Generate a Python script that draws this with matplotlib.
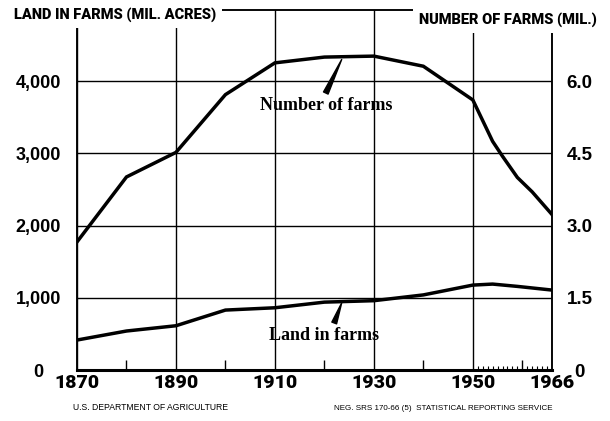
import matplotlib
matplotlib.use("Agg")
import matplotlib.pyplot as plt

# data
years_farms = [1870, 1880, 1890, 1900, 1910, 1920, 1930, 1940, 1950, 1954, 1956, 1959, 1962, 1966]
farms_mil = [2.66, 4.01, 4.52, 5.72, 6.38, 6.50, 6.52, 6.31, 5.61, 4.75, 4.44, 4.00, 3.70, 3.23]

years_land = [1870, 1880, 1890, 1900, 1910, 1920, 1930, 1940, 1950, 1954, 1959, 1966]
land_mil_acres = [415, 540, 613, 830, 862, 940, 960, 1040, 1176, 1190, 1158, 1107]

x_ticks = [1870, 1890, 1910, 1930, 1950, 1966]
x_minor = [1880, 1900, 1920, 1940, 1960]
x_yearly = [1951, 1952, 1953, 1954, 1955, 1956, 1957, 1958, 1959,
            1961, 1962, 1963, 1964, 1965]
left_ticks = [0, 1000, 2000, 3000, 4000]
left_labels = ["0", "1,000", "2,000", "3,000", "4,000"]
right_ticks = [0, 1.5, 3.0, 4.5, 6.0]
right_labels = ["0", "1.5", "3.0", "4.5", "6.0"]

NARROW = ["Roboto", "DejaVu Sans"]
WIDE = ["Liberation Sans", "DejaVu Sans"]
SERIF = ["Liberation Serif", "DejaVu Serif"]


def main():
    fig = plt.figure(figsize=(6.1, 4.21), dpi=100)
    ax = fig.add_axes([0.1262, 0.1211, 0.7787, 0.8551])
    ax2 = ax.twinx()

    ymax = 4985
    ax.set_xlim(1870, 1966)
    ax.set_ylim(0, ymax)
    ax2.set_ylim(0, ymax * 0.0015)

    ax.plot(years_land, land_mil_acres, color="black", lw=2.5,
            solid_joinstyle="miter", zorder=3)
    ax2.plot(years_farms, farms_mil, color="black", lw=2.5,
             solid_joinstyle="miter", zorder=3)

    # x axis
    ax.set_xticks(x_ticks)
    ax.set_xticklabels([str(y) for y in x_ticks], family=NARROW,
                       fontweight="black", fontsize=14)
    ax.set_xticks(x_minor, minor=True)
    ax.tick_params(axis="x", which="major", length=0, pad=3)
    ax.tick_params(axis="x", which="minor", direction="in", length=7,
                   width=1, color="black")
    sec = ax.secondary_xaxis("bottom")
    sec.set_xticks(x_yearly)
    sec.tick_params(direction="in", length=3, width=0.8, labelbottom=False)
    sec.spines["bottom"].set_visible(False)

    # left axis
    ax.set_yticks(left_ticks)
    ax.set_yticklabels(left_labels, family=WIDE, fontweight="bold",
                       fontsize=13, ha="center")
    ax.tick_params(axis="y", length=0, pad=28)

    # right axis
    ax2.set_yticks(right_ticks)
    ax2.set_yticklabels(right_labels, family=WIDE, fontweight="bold",
                        fontsize=13.5, ha="center")
    ax2.tick_params(axis="y", length=0, pad=20)

    ax.grid(True, which="major", color="black", lw=1)
    ax.set_axisbelow(True)

    for s in ["left", "right", "top"]:
        ax.spines[s].set_linewidth(1.1)
        ax2.spines[s].set_linewidth(1.1)
    ax.spines["bottom"].set_linewidth(2.2)
    ax2.spines["bottom"].set_visible(False)

    # line labels with wedge leaders
    ax2.annotate("Number of farms", xy=(1923.5, 6.45), xytext=(1920.3, 5.40),
                 ha="center", va="baseline", family=SERIF, fontweight="bold",
                 fontsize=13,
                 arrowprops=dict(arrowstyle="wedge,tail_width=0.28",
                                 color="black", shrinkA=1, shrinkB=0,
                                 relpos=(0.485, 1.0)))
    ax.annotate("Land in farms", xy=(1923.5, 930), xytext=(1919.9, 415),
                ha="center", va="baseline", family=SERIF, fontweight="bold",
                fontsize=13,
                arrowprops=dict(arrowstyle="wedge,tail_width=0.28",
                                color="black", shrinkA=1, shrinkB=0,
                                relpos=(0.58, 1.0)))

    box = dict(boxstyle="square,pad=0.4", facecolor="white", edgecolor="none")
    fig.text(14 / 610, 1 - 15 / 421, "LAND IN FARMS (MIL. ACRES)",
             ha="left", va="center", family=NARROW, fontweight="black",
             fontsize=10.5, bbox=box)
    fig.text(597 / 610, 1 - 20 / 421, "NUMBER OF FARMS (MIL.)",
             ha="right", va="center", family=NARROW, fontweight="black",
             fontsize=10.5, bbox=box)

    fig.text(73 / 610, 1 - 408 / 421, "U.S. DEPARTMENT OF AGRICULTURE",
             ha="left", va="center", family=WIDE, fontsize=6.2)
    fig.text(553 / 610, 1 - 408 / 421,
             "NEG. SRS 170-66 (5)  STATISTICAL REPORTING SERVICE",
             ha="right", va="center", family=WIDE, fontsize=5.8)

    fig.savefig("out.png", dpi=100)


if __name__ == "__main__":
    main()
